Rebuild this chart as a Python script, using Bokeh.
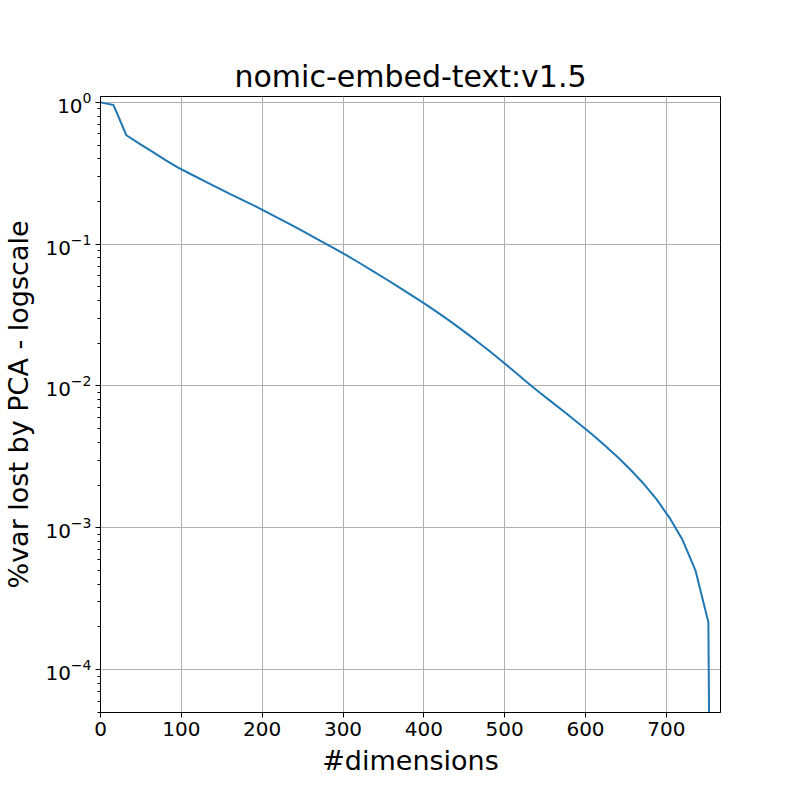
from bokeh.plotting import figure
from bokeh.models import Range1d, FixedTicker, LogTicker
from bokeh.embed import file_html
from bokeh.resources import INLINE

# dimensions kept after PCA
dims = [0, 16, 32, 48, 64, 80, 96, 112, 128, 144, 160, 176, 192, 208, 224, 240,
        256, 272, 288, 304, 320, 336, 352, 368, 384, 400, 416, 432, 448, 464, 480,
        496, 512, 528, 544, 560, 576, 592, 608, 624, 640, 656, 672, 688, 704, 720,
        736, 752, 768]
# log10 of fraction of variance lost
log_var_lost = [0.0, -0.018, -0.232, -0.291, -0.348, -0.405, -0.460, -0.507, -0.553,
                -0.599, -0.645, -0.689, -0.734, -0.781, -0.829, -0.877, -0.926, -0.976,
                -1.026, -1.077, -1.131, -1.186, -1.242, -1.299, -1.357, -1.416, -1.477,
                -1.541, -1.608, -1.677, -1.748, -1.822, -1.898, -1.975, -2.049, -2.121,
                -2.193, -2.266, -2.341, -2.420, -2.503, -2.593, -2.690, -2.800, -2.930,
                -3.085, -3.300, -3.666, -16.0]
var_lost = [10 ** v for v in log_var_lost]

x_ticks = [0, 100, 200, 300, 400, 500, 600, 700]

FONT = "DejaVu Sans"

p = figure(
    output_backend="svg", toolbar_location=None,
    frame_width=620, frame_height=616,
    min_border_left=60, min_border_right=72, min_border_top=96, min_border_bottom=80,
    y_axis_type="log",
    x_range=Range1d(0, 767), y_range=Range1d(4.98e-5, 1.10),
    title="nomic-embed-text:v1.5",
    background_fill_color="white", border_fill_color="white",
)

p.line(dims, var_lost, line_color="#1f77b4", line_width=2)

p.title.text_font = FONT
p.title.text_font_size = "30px"
p.title.text_font_style = "normal"
p.title.align = "center"
p.title.text_color = "black"
p.title.standoff = 6

p.outline_line_color = "black"
p.outline_line_width = 1
p.outline_line_alpha = 1

for g in (p.xgrid, p.ygrid):
    g.grid_line_color = "#b0b0b0"
    g.grid_line_width = 1
p.ygrid.minor_grid_line_color = None

p.xaxis.ticker = FixedTicker(ticks=x_ticks)
p.yaxis.ticker = LogTicker(num_minor_ticks=10)

p.xaxis.axis_label = "#dimensions"
p.yaxis.axis_label = "%var lost by PCA - logscale"

for ax in (p.xaxis, p.yaxis):
    ax.axis_label_text_font = FONT
    ax.axis_label_text_font_size = "27px"
    ax.axis_label_text_font_style = "normal"
    ax.axis_label_text_color = "black"
    ax.major_label_text_font = FONT
    ax.major_label_text_font_size = "20px"
    ax.major_label_text_color = "black"
    ax.axis_line_color = "black"
    ax.major_tick_line_color = "black"
    ax.minor_tick_line_color = "black"
    ax.major_tick_in = 0
    ax.major_tick_out = 5
    ax.minor_tick_in = 0
    ax.minor_tick_out = 3
    ax.major_label_standoff = 4

p.xaxis.axis_label_standoff = 6
p.yaxis.axis_label_standoff = 8
p.xaxis.minor_tick_line_color = None

open("out.html", "w").write(file_html(p, INLINE))
